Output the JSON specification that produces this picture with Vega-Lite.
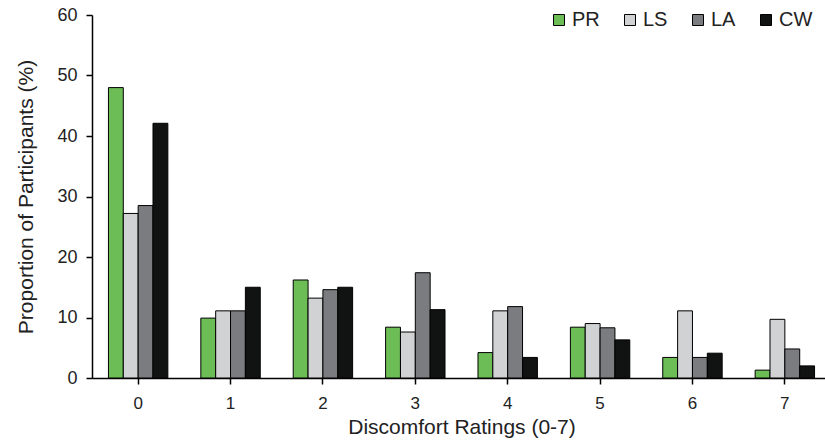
{
  "$schema": "https://vega.github.io/schema/vega-lite/v6.json",
  "autosize": {"type": "none"},
  "width": 739,
  "height": 363,
  "padding": {"left": 92, "top": 15, "right": 0, "bottom": 69},
  "background": "white",
  "config": {
    "font": "Liberation Sans",
    "view": {"stroke": null},
    "axis": {"grid": false, "domainColor": "black", "tickColor": "black", "domainWidth": 1.5, "tickWidth": 1.5, "labelColor": "#222", "titleColor": "#222", "labelFontWeight": "normal", "titleFontWeight": "normal"}
  },
  "data": {
    "values": [
      {"rating": "0", "group": "PR", "value": 48.0},
      {"rating": "0", "group": "LS", "value": 27.2},
      {"rating": "0", "group": "LA", "value": 28.5},
      {"rating": "0", "group": "CW", "value": 42.1},
      {"rating": "1", "group": "PR", "value": 9.9},
      {"rating": "1", "group": "LS", "value": 11.1},
      {"rating": "1", "group": "LA", "value": 11.1},
      {"rating": "1", "group": "CW", "value": 15.0},
      {"rating": "2", "group": "PR", "value": 16.2},
      {"rating": "2", "group": "LS", "value": 13.2},
      {"rating": "2", "group": "LA", "value": 14.6},
      {"rating": "2", "group": "CW", "value": 15.0},
      {"rating": "3", "group": "PR", "value": 8.4},
      {"rating": "3", "group": "LS", "value": 7.6},
      {"rating": "3", "group": "LA", "value": 17.4},
      {"rating": "3", "group": "CW", "value": 11.3},
      {"rating": "4", "group": "PR", "value": 4.2},
      {"rating": "4", "group": "LS", "value": 11.1},
      {"rating": "4", "group": "LA", "value": 11.8},
      {"rating": "4", "group": "CW", "value": 3.4},
      {"rating": "5", "group": "PR", "value": 8.4},
      {"rating": "5", "group": "LS", "value": 9.0},
      {"rating": "5", "group": "LA", "value": 8.3},
      {"rating": "5", "group": "CW", "value": 6.3},
      {"rating": "6", "group": "PR", "value": 3.4},
      {"rating": "6", "group": "LS", "value": 11.1},
      {"rating": "6", "group": "LA", "value": 3.4},
      {"rating": "6", "group": "CW", "value": 4.1},
      {"rating": "7", "group": "PR", "value": 1.3},
      {"rating": "7", "group": "LS", "value": 9.7},
      {"rating": "7", "group": "LA", "value": 4.8},
      {"rating": "7", "group": "CW", "value": 2.0}
    ]
  },
  "mark": {"type": "bar", "stroke": "black", "strokeWidth": 1},
  "encoding": {
    "x": {
      "field": "rating", "type": "nominal", "sort": null,
      "scale": {"paddingInner": 0.357, "paddingOuter": 0.178},
      "axis": {"title": "Discomfort Ratings (0-7)", "labelAngle": 0, "labelFontSize": 17, "titleFontSize": 21, "tickSize": 6, "labelPadding": 11, "titlePadding": 5}
    },
    "xOffset": {"field": "group", "type": "nominal", "sort": ["PR", "LS", "LA", "CW"], "scale": {"paddingInner": 0, "paddingOuter": 0}},
    "y": {
      "field": "value", "type": "quantitative",
      "scale": {"domain": [0, 60], "nice": false},
      "axis": {"title": "Proportion of Participants (%)", "values": [0, 10, 20, 30, 40, 50, 60], "labelFontSize": 18, "titleFontSize": 21, "tickSize": 6, "labelPadding": 9, "titlePadding": 20}
    },
    "color": {
      "field": "group", "type": "nominal", "sort": ["PR", "LS", "LA", "CW"],
      "scale": {"domain": ["PR", "LS", "LA", "CW"], "range": ["#6dbd57", "#d1d2d4", "#7b7c80", "#111312"]},
      "legend": {
        "title": null, "orient": "none", "direction": "horizontal",
        "legendX": 457, "legendY": -5,
        "symbolType": "square", "symbolSize": 121, "symbolStrokeColor": "black", "symbolStrokeWidth": 1,
        "labelFontSize": 20, "labelColor": "#222", "labelOffset": 3, "columnPadding": 20
      }
    }
  }
}
